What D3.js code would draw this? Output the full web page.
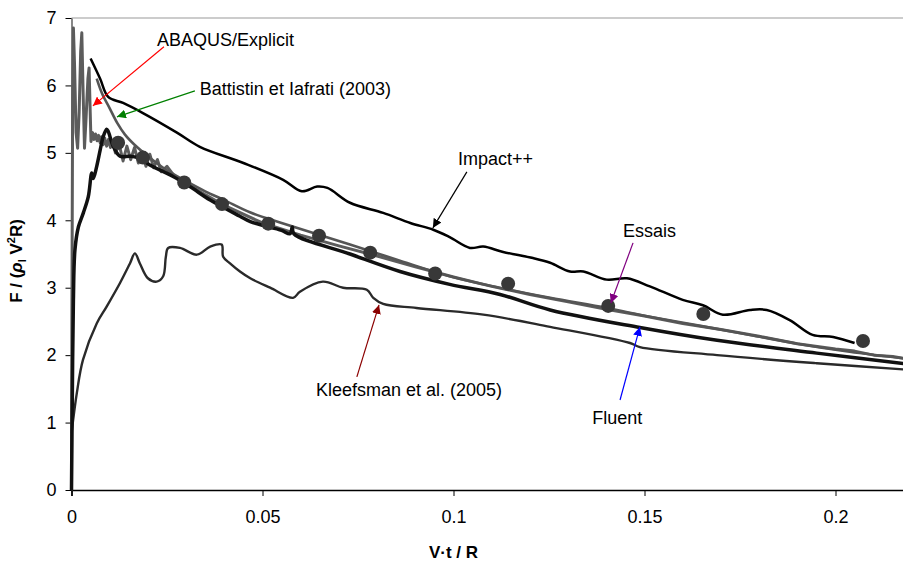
<!DOCTYPE html>
<html>
<head>
<meta charset="utf-8">
<script src="https://cdn.jsdelivr.net/npm/d3@7"></script>
<style>
  body { margin: 0; background: #fff; }
  text { font-family: "Liberation Sans", Arial, sans-serif; }
</style>
</head>
<body>
<svg id="chart" width="903" height="561"></svg>
<script>
// ---- data (x = V.t/R, y = F/(rho V^2 R)) ----
var xTicks = [0, 0.05, 0.1, 0.15, 0.2];
var yTicks = [0, 1, 2, 3, 4, 5, 6, 7];

var essais = [[0.0122,5.15],[0.0187,4.93],[0.0295,4.56],[0.0394,4.24],[0.0515,3.95],
  [0.0648,3.77],[0.0782,3.52],[0.0952,3.21],[0.1143,3.06],[0.1405,2.73],[0.1654,2.61],[0.2072,2.21]];

var impact = [[0.005,6.4],[0.0075,6.1],[0.0096,5.83],[0.0135,5.74],[0.0187,5.59],[0.0276,5.3],
  [0.0336,5.09],[0.045,4.85],[0.0554,4.6],[0.0603,4.43],[0.0643,4.5],[0.067,4.48],[0.0729,4.26],
  [0.0816,4.11],[0.0887,3.96],[0.0947,3.86],[0.099,3.75],[0.1043,3.59],[0.1078,3.61],[0.113,3.53],
  [0.1208,3.44],[0.1253,3.37],[0.1305,3.24],[0.134,3.24],[0.1401,3.12],[0.1454,3.14],[0.1514,3.02],
  [0.16,2.82],[0.1653,2.74],[0.1705,2.6],[0.1776,2.67],[0.182,2.67],[0.188,2.52],[0.194,2.3],
  [0.1994,2.27],[0.205,2.18]];

var battistin = [[0.0066,6.1],[0.008,5.88],[0.01,5.66],[0.012,5.44],[0.014,5.27],[0.0165,5.12],
  [0.02,4.95],[0.025,4.74],[0.03,4.58],[0.035,4.43],[0.04,4.3],[0.0467,4.12],[0.055,3.96],
  [0.0729,3.64],[0.085,3.42],[0.099,3.17],[0.112,3.0],[0.1253,2.85],[0.14,2.7],[0.1514,2.57],
  [0.165,2.43],[0.1776,2.3],[0.19,2.17],[0.2037,2.05],[0.22,1.94]];

var abaqus = [[0,0],[0.0001,2.5],[0.0003,5.8],[0.0005,6.85],[0.0008,6.3],[0.0012,5.3],[0.0016,5.07],
  [0.002,5.6],[0.0024,6.5],[0.0027,6.78],[0.003,6.0],[0.0034,5.07],[0.0038,5.5],[0.0043,6.1],
  [0.0046,6.26],[0.0049,5.6],[0.0051,5.17],[0.0055,5.3],[0.0059,5.2],[0.0063,5.28],[0.0067,5.18],
  [0.0071,5.26],[0.0075,5.15],[0.0079,5.24],[0.0083,5.12],[0.0087,5.22],[0.0092,5.1],[0.0097,5.2],
  [0.0102,5.08],[0.0108,5.17],[0.0115,5.0],[0.0125,5.12],[0.0135,4.88],[0.0145,5.1],[0.0155,4.9],
  [0.0165,5.08],[0.0175,4.85],[0.0185,5.02],[0.0195,4.8],[0.0205,4.98],[0.0215,4.78],[0.0225,4.9],
  [0.0235,4.72],[0.025,4.8],[0.027,4.65],[0.03,4.55],[0.035,4.38],[0.04,4.22],[0.05,3.96],
  [0.06,3.78],[0.07,3.62],[0.08,3.47],[0.09,3.31],[0.1,3.16],[0.11,3.02],[0.12,2.9],[0.13,2.79],
  [0.14,2.68],[0.15,2.58],[0.16,2.47],[0.17,2.38],[0.18,2.28],[0.19,2.17],[0.2,2.09],[0.205,2.06],
  [0.21,2.0],[0.215,1.98],[0.22,1.93]];

var fluent = [[0,0],[0.0002,1.3],[0.0005,2.82],[0.0009,3.56],[0.0018,3.9],[0.0031,4.11],
  [0.0044,4.35],[0.0053,4.7],[0.0057,4.62],[0.0066,4.8],[0.0075,5.04],[0.0083,5.24],[0.0092,5.35],
  [0.0096,5.32],[0.0109,5.1],[0.0127,4.95],[0.0153,4.95],[0.0179,4.92],[0.0205,4.82],[0.0266,4.65],
  [0.031,4.5],[0.0363,4.3],[0.0441,4.06],[0.0468,3.98],[0.055,3.85],[0.0572,3.8],[0.0578,3.9],
  [0.0582,3.8],[0.0729,3.5],[0.086,3.24],[0.099,3.05],[0.1122,2.9],[0.1253,2.67],[0.1488,2.41],
  [0.169,2.22],[0.1951,2.03],[0.22,1.86]];

var kleefsman = [[0,0.84],[0.0014,1.44],[0.003,1.93],[0.0066,2.47],[0.0092,2.72],[0.0127,3.07],
  [0.0153,3.36],[0.0166,3.51],[0.0179,3.36],[0.02,3.14],[0.0223,3.09],[0.024,3.17],[0.0247,3.46],
  [0.0253,3.59],[0.0284,3.59],[0.0328,3.49],[0.0363,3.61],[0.0393,3.64],[0.0397,3.46],[0.0415,3.36],
  [0.0441,3.24],[0.0468,3.14],[0.052,3.0],[0.058,2.85],[0.0598,2.94],[0.0658,3.09],[0.0711,3.0],
  [0.0773,2.97],[0.079,2.85],[0.0816,2.76],[0.0903,2.7],[0.1078,2.6],[0.1253,2.42],[0.1462,2.18],
  [0.1488,2.12],[0.169,2.0],[0.1951,1.88],[0.22,1.78]];

// annotations: label anchor, arrow start, arrow tip (data units)
var labels = [
  { text: "ABAQUS/Explicit", at: [0.0224,6.588], from: [0.0242,6.573], to: [0.0056,5.697], color: "#ff0000" },
  { text: "Battistin et Iafrati (2003)", at: [0.0336,5.861], from: [0.0323,5.92], to: [0.0119,5.534], color: "#008000" },
  { text: "Impact++", at: [0.1012,4.822], from: [0.1035,4.718], to: [0.0946,3.887], color: "#000000" },
  { text: "Essais", at: [0.1444,3.754], from: [0.147,3.665], to: [0.1412,2.774], color: "#800080" },
  { text: "Kleefsman et al. (2005)", at: [0.064,1.395], from: [0.0747,1.677], to: [0.0805,2.745], color: "#8b0000" },
  { text: "Fluent", at: [0.1363,0.979], from: [0.1436,1.335], to: [0.1488,2.418], color: "#0000ff" }
];

var svg = d3.select("#chart");
var x = d3.scaleLinear().domain([0, 0.22]).range([71.5, 911.9]);
var y = d3.scaleLinear().domain([0, 7]).range([490, 18]);

// frame
svg.append("line").attr("x1", x(0)).attr("x2", 903).attr("y1", y(7)).attr("y2", y(7))
  .attr("stroke", "#999").attr("stroke-width", 1);

var xAxis = svg.append("g").attr("transform", "translate(0," + y(0) + ")")
  .call(d3.axisBottom(x).tickValues(xTicks).tickSize(6).tickPadding(14)
    .tickFormat(function(d){ return d === 0 ? "0" : String(+d.toFixed(2)); }));
xAxis.select(".domain").attr("stroke", "#000").attr("stroke-width", 1.6);
xAxis.selectAll(".tick line").attr("stroke", "#000");
xAxis.selectAll("text").attr("font-size", 18).attr("fill", "#000")
  .attr("font-family", "Liberation Sans, Arial, sans-serif");

var yAxis = svg.append("g").attr("transform", "translate(" + x(0) + ",0)")
  .call(d3.axisLeft(y).tickValues(yTicks).tickSize(6).tickPadding(9).tickSizeOuter(0)
    .tickFormat(d3.format("d")));
yAxis.select(".domain").attr("stroke", "#555").attr("stroke-width", 1.4);
yAxis.selectAll(".tick line").attr("stroke", "#000");
yAxis.selectAll("text").attr("font-size", 18).attr("fill", "#000")
  .attr("font-family", "Liberation Sans, Arial, sans-serif");

// curves
var line = d3.line().x(function(d){ return x(d[0]); }).y(function(d){ return y(d[1]); })
  .curve(d3.curveCatmullRom.alpha(0.5));
var lineSharp = d3.line().x(function(d){ return x(d[0]); }).y(function(d){ return y(d[1]); });

function draw(data, color, width, gen) {
  svg.append("path").datum(data).attr("d", gen || line)
    .attr("fill", "none").attr("stroke", color).attr("stroke-width", width)
    .attr("stroke-linejoin", "round");
}
draw(kleefsman, "#2a2a2a", 2.4);
draw(abaqus, "#5c5c5c", 3, lineSharp);
draw(battistin, "#555555", 2.6);
draw(fluent, "#111111", 3.5);
draw(impact, "#000000", 2.5);

svg.append("g").selectAll("circle").data(essais).enter().append("circle")
  .attr("cx", function(d){ return x(d[0]); }).attr("cy", function(d){ return y(d[1]); })
  .attr("r", 7).attr("fill", "#383838");

// arrowheads
var defs = svg.append("defs");
labels.forEach(function(l, i) {
  defs.append("marker").attr("id", "arr" + i).attr("viewBox", "0 0 10 10")
    .attr("refX", 10).attr("refY", 5).attr("markerWidth", 9).attr("markerHeight", 9)
    .attr("markerUnits", "userSpaceOnUse").attr("orient", "auto")
    .append("path").attr("d", "M0,0 L10,5 L0,10 Z").attr("fill", l.color);
});

var ann = svg.append("g");
labels.forEach(function(l, i) {
  ann.append("line").attr("x1", x(l.from[0])).attr("y1", y(l.from[1]))
    .attr("x2", x(l.to[0])).attr("y2", y(l.to[1]))
    .attr("stroke", l.color).attr("stroke-width", 1.2).attr("marker-end", "url(#arr" + i + ")");
  ann.append("text").attr("x", x(l.at[0])).attr("y", y(l.at[1]))
    .attr("font-size", 18).attr("fill", "#000").text(l.text);
});

// axis titles
svg.append("text").attr("x", x(0.1)).attr("y", 558).attr("text-anchor", "middle")
  .attr("font-size", 17).attr("font-weight", "bold").text("V·t / R");

var yt = svg.append("text").attr("transform", "translate(22,261) rotate(-90)")
  .attr("text-anchor", "middle").attr("font-size", 17).attr("font-weight", "bold");
yt.append("tspan").text("F / (");
yt.append("tspan").attr("font-style", "italic").text("ρ");
yt.append("tspan").attr("font-size", 11).attr("dy", 4).text("l");
yt.append("tspan").attr("dy", -4).text(" V");
yt.append("tspan").attr("font-size", 11).attr("dy", -7).text("2");
yt.append("tspan").attr("dy", 7).text("R)");
</script>
</body>
</html>
